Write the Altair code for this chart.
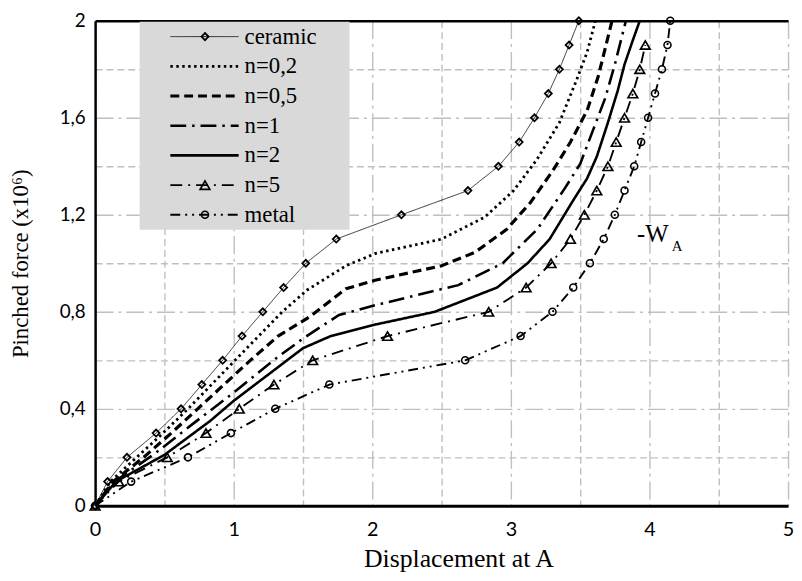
import altair as alt
import pandas as pd

series_names = ["ceramic", "n=0,2", "n=0,5", "n=1", "n=2", "n=5", "metal"]

ceramic_x = [0, 0.09, 0.23, 0.44, 0.62, 0.77, 0.92, 1.06, 1.21, 1.36, 1.52, 1.74, 2.21, 2.69, 2.91, 3.06, 3.17, 3.27, 3.35, 3.42, 3.49]
ceramic_y = [0, 0.1, 0.2, 0.3, 0.4, 0.5, 0.6, 0.7, 0.8, 0.9, 1.0, 1.1, 1.2, 1.3, 1.4, 1.5, 1.6, 1.7, 1.8, 1.9, 2.0]

n02_x = [0, 0.11, 0.30, 0.49, 0.67, 0.84, 1.01, 1.18, 1.35, 1.53, 1.81, 2.02, 2.50, 2.81, 3.02, 3.19, 3.35, 3.47, 3.55, 3.61]
n02_y = [0, 0.1, 0.2, 0.3, 0.4, 0.5, 0.6, 0.7, 0.8, 0.89, 0.99, 1.04, 1.10, 1.19, 1.30, 1.43, 1.58, 1.75, 1.87, 2.0]

n05_x = [0, 0.13, 0.35, 0.55, 0.74, 0.93, 1.12, 1.32, 1.55, 1.81, 2.02, 2.50, 2.74, 2.97, 3.14, 3.30, 3.43, 3.55, 3.63, 3.73]
n05_y = [0, 0.1, 0.2, 0.3, 0.4, 0.5, 0.6, 0.7, 0.78, 0.895, 0.93, 0.99, 1.045, 1.14, 1.25, 1.38, 1.50, 1.63, 1.77, 2.0]

n1_x = [0, 0.14, 0.43, 0.71, 1.00, 1.31, 1.50, 1.76, 2.02, 2.62, 2.94, 3.19, 3.39, 3.50, 3.60, 3.68, 3.75, 3.83]
n1_y = [0, 0.1, 0.215, 0.34, 0.467, 0.61, 0.69, 0.787, 0.827, 0.91, 1.0, 1.14, 1.31, 1.41, 1.56, 1.68, 1.82, 2.0]

n2_x = [0, 0.15, 0.50, 0.83, 1.00, 1.50, 1.70, 2.01, 2.45, 2.90, 3.12, 3.28, 3.45, 3.55, 3.62, 3.70, 3.77, 3.82, 3.88, 3.93]
n2_y = [0, 0.1, 0.21, 0.35, 0.433, 0.65, 0.70, 0.746, 0.80, 0.90, 1.0, 1.10, 1.26, 1.35, 1.44, 1.58, 1.71, 1.82, 1.92, 2.0]

n5_x = [0, 0.17, 0.52, 0.80, 1.04, 1.29, 1.57, 2.11, 2.84, 3.11, 3.29, 3.43, 3.53, 3.62, 3.70, 3.76, 3.82, 3.88, 3.93, 3.97]
n5_y = [0, 0.1, 0.2, 0.3, 0.4, 0.5, 0.6, 0.7, 0.8, 0.9, 1.0, 1.1, 1.2, 1.3, 1.4, 1.5, 1.6, 1.7, 1.8, 1.9]

metal_x = [0, 0.26, 0.67, 0.98, 1.30, 1.69, 2.67, 3.07, 3.30, 3.45, 3.57, 3.67, 3.75, 3.82, 3.89, 3.94, 3.99, 4.04, 4.09, 4.13, 4.15]
metal_y = [0, 0.1, 0.2, 0.3, 0.4, 0.5, 0.6, 0.7, 0.8, 0.9, 1.0, 1.1, 1.2, 1.3, 1.4, 1.5, 1.6, 1.7, 1.8, 1.9, 2.0]

x_ticks = [0, 0.5, 1, 1.5, 2, 2.5, 3, 3.5, 4, 4.5, 5]
y_ticks = [0, 0.2, 0.4, 0.6, 0.8, 1.0, 1.2, 1.4, 1.6, 1.8, 2.0]

annot_text = ["-W"]
annot_sub = ["A"]
annot_x = [3.91]
annot_y = [1.12]
annot_sub_x = [4.16]
annot_sub_y = [1.07]

all_x = [ceramic_x, n02_x, n05_x, n1_x, n2_x, n5_x, metal_x]
all_y = [ceramic_y, n02_y, n05_y, n1_y, n2_y, n5_y, metal_y]

# line styles per series
dashes = {
    "ceramic": [1, 0],
    "n=0,2": [2.5, 3.5],
    "n=0,5": [9, 5],
    "n=1": [16, 6, 2.5, 6],
    "n=2": [1, 0],
    "n=5": [12, 6, 2, 6],
    "metal": [10, 5, 2, 5, 2, 5],
}
widths = {"ceramic": 0.8, "n=0,2": 2.8, "n=0,5": 3.2, "n=1": 2.6, "n=2": 2.6, "n=5": 1.9, "metal": 1.9}
marker_style = {"ceramic": ("diamond", 50, 1.8), "n=5": ("triangle-up", 95, 1.7), "metal": ("circle", 50, 1.6)}

rows = []
for name, xs, ys in zip(series_names, all_x, all_y):
    for i, (xv, yv) in enumerate(zip(xs, ys)):
        rows.append({"series": name, "x": xv, "y": yv, "i": i})
df = pd.DataFrame(rows)

legend_df = pd.DataFrame({"series": series_names, "row": list(range(len(series_names)))})

XS = alt.Scale(domain=[0, 5], nice=False, zero=False)
YS = alt.Scale(domain=[0, 2], nice=False, zero=False)
LEG_Y = alt.Scale(domain=[0, 6], range=[16, 196])

GRID_GRAY = "#bfbfbf"

x_axis = alt.Axis(
    values=x_ticks,
    labelExpr="datum.value % 1 == 0 ? format(datum.value, 'd') : ''",
    grid=True, gridColor=GRID_GRAY, gridWidth=1.4,
    gridDash={"condition": {"test": "datum.value % 1 == 0", "value": [18, 5, 3, 5]}, "value": [7, 4]},
    domainColor="black", domainWidth=3, ticks=False,
    labelFont="Lato", labelFontSize=20, labelColor="black", labelPadding=14,
    labelFlush=False, labelOverlap=False,
    title="Displacement at A", titleFont="Liberation Serif", titleFontSize=26,
    titleFontWeight="normal", titleColor="black", titlePadding=6, titleX=367,
)
y_axis = alt.Axis(
    values=y_ticks,
    labelExpr="round(datum.value*10) % 4 == 0 ? replace(format(datum.value, '~g'), '.', ',') : ''",
    grid=True, gridColor=GRID_GRAY, gridWidth=1.4,
    gridDash={"condition": {"test": "round(datum.value*10) % 4 == 0", "value": [18, 5, 3, 5]}, "value": [7, 4]},
    domainColor="black", domainWidth=2.5, ticks=False,
    labelFont="Lato", labelFontSize=19, labelColor="black", labelPadding=10,
    labelFlush=False, labelOverlap=False,
    title="Pinched force (x10⁶)", titleFont="Liberation Serif", titleFontSize=23,
    titleFontWeight="normal", titleColor="black", titleX=-75, titleY=245,
    titleBaseline="middle", titleAlign="center", titleAngle=-90,
)
top_axis = alt.Axis(orient="top", labels=False, ticks=False, grid=False, title=None,
                    domainColor="black", domainWidth=2.5)

layers = []
# series lines
for k, name in enumerate(series_names):
    layers.append(
        alt.Chart(df[df["series"] == name]).mark_line(
            color="black", strokeWidth=widths[name], strokeDash=dashes[name], clip=True
        ).encode(
            x=alt.X("x:Q", scale=XS, axis=x_axis if k == 0 else None),
            y=alt.Y("y:Q", scale=YS, axis=y_axis if k == 0 else None),
            order="i:Q",
        )
    )
# markers
for k, (name, (shape, size, sw)) in enumerate(marker_style.items()):
    layers.append(
        alt.Chart(df[df["series"] == name]).mark_point(
            shape=shape, size=size, filled=False, color="black", strokeWidth=sw, opacity=1
        ).encode(
            x=alt.X("x:Q", scale=XS, axis=top_axis if k == 0 else None),
            y=alt.Y("y:Q", scale=YS, axis=None),
        )
    )

# annotation
layers.append(alt.Chart(pd.DataFrame({"x": annot_x, "y": annot_y, "t": annot_text})).mark_text(
    align="left", baseline="middle", font="Liberation Serif", fontSize=25, color="black"
).encode(x=alt.X("x:Q", scale=XS, axis=None), y=alt.Y("y:Q", scale=YS, axis=None), text="t:N"))
layers.append(alt.Chart(pd.DataFrame({"x": annot_sub_x, "y": annot_sub_y, "t": annot_sub})).mark_text(
    align="left", baseline="middle", font="Liberation Serif", fontSize=15, color="black"
).encode(x=alt.X("x:Q", scale=XS, axis=None), y=alt.Y("y:Q", scale=YS, axis=None), text="t:N"))

# legend box
layers.append(alt.Chart(pd.DataFrame({"a": [0]})).mark_rect(color="#d9d9d9").encode(
    x=alt.value(45), x2=alt.value(257), y=alt.value(1), y2=alt.value(211)
))
# legend samples
for name in series_names:
    layers.append(
        alt.Chart(legend_df[legend_df["series"] == name]).mark_rule(
            color="black", strokeWidth=widths[name], strokeDash=dashes[name]
        ).encode(
            x=alt.value(76), x2=alt.value(145),
            y=alt.Y("row:Q", scale=LEG_Y, axis=None),
        )
    )
for name, (shape, size, sw) in marker_style.items():
    layers.append(
        alt.Chart(legend_df[legend_df["series"] == name]).mark_point(
            shape=shape, size=size, filled=False, color="black", strokeWidth=sw, opacity=1
        ).encode(
            x=alt.value(111),
            y=alt.Y("row:Q", scale=LEG_Y, axis=None),
        )
    )
layers.append(alt.Chart(legend_df).mark_text(
    align="left", baseline="middle", font="Liberation Serif", fontSize=23, color="black"
).encode(
    x=alt.value(151),
    y=alt.Y("row:Q", scale=LEG_Y, axis=None),
    text="series:N",
))

chart = alt.layer(*layers).resolve_scale(y="independent").resolve_axis(x="independent").properties(
    width=700, height=490,
    autosize=alt.AutoSizeParams(type="none"),
    padding={"left": 88, "top": 10, "right": 6, "bottom": 72},
).configure_view(stroke=None)

chart.save("out.html", embed_options={"renderer": "svg", "actions": False})
